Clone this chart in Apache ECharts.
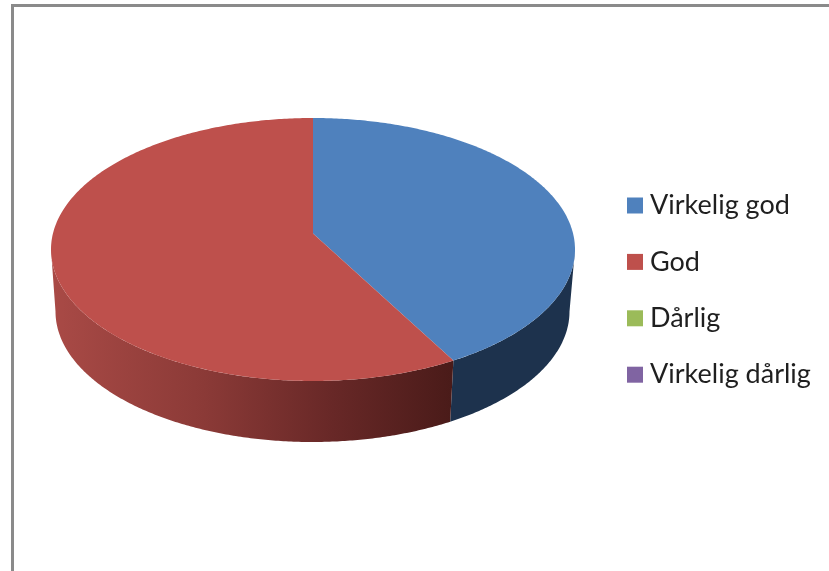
<!DOCTYPE html>
<html>
<head>
<meta charset="utf-8">
<style>html,body{margin:0;padding:0;background:#fff}#c{width:829px;height:571px}</style>
<script src="https://cdn.jsdelivr.net/npm/echarts@6/dist/echarts.min.js"></script>
</head>
<body>
<div id="c"></div>
<script>
const categories = ['Virkelig god', 'God', 'Dårlig', 'Virkelig dårlig'];
const values = [41, 59, 0, 0];
const topColors = ['#4F81BD', '#BE504C', '#9BBB59', '#8064A2'];

const total = values.reduce((a, b) => a + b, 0);
const TOP = {cx: 313, cy: 249.5, rx: 262, ry: 131.5};
const BOTTOM = {cx: 312.5, cy: 311.5, rx: 257, ry: 130.5};
const APEX = [313, 233.5];
const wallFills = [
  '#1D324D',
  {type: 'linear', x: 52, y: 0, x2: 452, y2: 0, global: true, colorStops: [
    {offset: 0, color: '#A94A46'},
    {offset: 0.38, color: '#8B3A37'},
    {offset: 0.7, color: '#682827'},
    {offset: 1, color: '#4A1B19'}
  ]},
  '#5F7530', '#4A3A60'
];

function rim(e, t) { return [e.cx + e.rx * Math.sin(t), e.cy - e.ry * Math.cos(t)]; }
function arc(e, a, b) {
  const pts = [], n = Math.max(2, Math.ceil(Math.abs(b - a) / 0.01));
  for (let i = 0; i <= n; i++) pts.push(rim(e, a + (b - a) * i / n));
  return pts;
}

function sliceRenderer(index) {
  return function () {
    const children = [];
    const before = values.slice(0, index).reduce((a, b) => a + b, 0);
    const t0 = before / total * 2 * Math.PI;
    const t1 = (before + values[index]) / total * 2 * Math.PI;
    if (values[index] <= 0) return {type: 'group', children};
    // the visible wall is the part of the rim on the front half (90deg..270deg)
    const w0 = Math.max(t0, Math.PI / 2), w1 = Math.min(t1, 1.5 * Math.PI);
    if (w1 > w0) {
      children.push({
        type: 'polygon', z2: 1,
        shape: {points: arc(TOP, w0, w1).concat(arc(BOTTOM, w1, w0))},
        style: {fill: wallFills[index]}
      });
    }
    children.push({
      type: 'polygon', z2: 2,
      shape: {points: [APEX].concat(arc(TOP, t0, t1))},
      style: {fill: topColors[index]}
    });
    return {type: 'group', children};
  };
}

const chart = echarts.init(document.getElementById('c'), null, {renderer: 'canvas'});
chart.setOption({
  animation: false,
  color: topColors,
  graphic: [{
    type: 'polyline', silent: true,
    shape: {points: [[12.5, 571], [12.5, 5.5], [829, 5.5]]},
    style: {fill: null, stroke: '#8A8A8A', lineWidth: 3}
  }],
  legend: {
    orient: 'vertical', left: 622, top: 185.5,
    icon: 'rect', itemWidth: 16, itemHeight: 16, itemGap: 26.4,
    selectedMode: false,
    textStyle: {fontFamily: 'Lato', fontSize: 27, color: '#1f1f1f', lineHeight: 30, padding: [0, 0, 0, 2]},
    data: categories
  },
  series: categories.map((name, i) => ({
    type: 'custom', name, coordinateSystem: 'none',
    data: [[values[i]]],
    itemStyle: {color: topColors[i]},
    renderItem: sliceRenderer(i)
  }))
});
</script>
</body>
</html>
